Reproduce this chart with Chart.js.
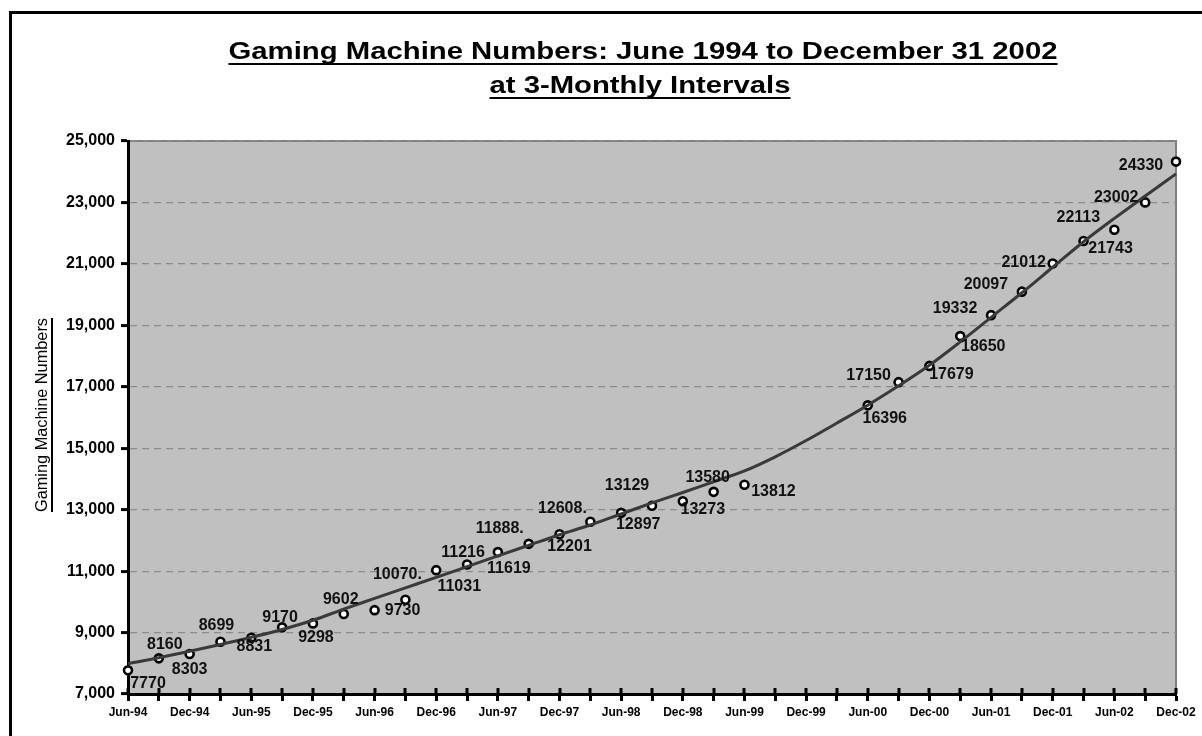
<!DOCTYPE html>
<html>
<head>
<meta charset="utf-8">
<title>Gaming Machine Numbers</title>
<script src="https://cdn.jsdelivr.net/npm/chart.js@4.4.1/dist/chart.umd.min.js"></script>
<style>
  html, body { margin: 0; padding: 0; background: #fff; }
  #wrap { position: relative; width: 1202px; height: 736px; }
</style>
</head>
<body>
<div id="wrap"><canvas id="chart"></canvas></div>
<script>
// quarterly dates, Jun-94 .. Dec-02
const quarters = [
  'Jun-94', 'Sep-94', 'Dec-94', 'Mar-95', 'Jun-95', 'Sep-95', 'Dec-95', 'Mar-96',
  'Jun-96', 'Sep-96', 'Dec-96', 'Mar-97', 'Jun-97', 'Sep-97', 'Dec-97', 'Mar-98',
  'Jun-98', 'Sep-98', 'Dec-98', 'Mar-99', 'Jun-99', 'Sep-99', 'Dec-99', 'Mar-00',
  'Jun-00', 'Sep-00', 'Dec-00', 'Mar-01', 'Jun-01', 'Sep-01', 'Dec-01', 'Mar-02',
  'Jun-02', 'Sep-02', 'Dec-02'
];

// gaming machine numbers (no figures for Sep-99 .. Mar-00)
const machines = [
  7770, 8160, 8303, 8699, 8831, 9170, 9298, 9602,
  9730, 10070, 11031, 11216, 11619, 11888, 12201, 12608,
  12897, 13129, 13273, 13580, 13812, null, null, null,
  16396, 17150, 17679, 18650, 19332, 20097, 21012, 21743,
  22113, 23002, 24330
];

// trend line
const trend = [
  7990, 8180, 8390, 8610, 8845, 9100, 9400, 9765,
  10110, 10454, 10797, 11145, 11494, 11840, 12185, 12500,
  12860, 13220, 13560, 13910, 14260, 14720, 15250, 15820,
  16400, 17030, 17700, 18460, 19260, 20060, 20890, 21720,
  22480, 23210, 23930
];

const yTicks = [7000, 9000, 11000, 13000, 15000, 17000, 19000, 21000, 23000, 25000];

// labels that show a trailing dot in the original
const dotted = [9, 13, 15];

// where each value label sits relative to its point (px)
const labelNudge = [
  [20, 13], [6, -14], [0, 16], [-4, -16], [3, 9], [-2, -10], [3, 14], [-3, -14],
  [28, 0], [-8, -25], [23, 16], [-4, -12], [11, 16], [-29, -15], [10, 12], [-28, -13],
  [17, 12], [-25, -20], [20, 8], [-6, -14], [29, 7], null, null, null,
  [17, 13], [-30, -7], [22, 9], [23, 11], [-36, -7], [-36, -7], [-29, -1], [27, 8],
  [-36, -12], [-29, -5], [-35, 4]
];

const FONT = '"Liberation Sans", Arial, sans-serif';

function fitText(ctx, text, cx, y, w) {
  const m = ctx.measureText(text).width;
  ctx.save();
  ctx.translate(cx, y);
  ctx.scale(w / m, 1);
  ctx.textAlign = 'center';
  ctx.fillText(text, 0, 0);
  ctx.restore();
  ctx.fillRect(cx - w / 2, y + 4, w, 2);
}

const framePlugin = {
  id: 'frame',
  beforeDraw(chart) {
    const { ctx, chartArea: a } = chart;
    ctx.save();
    // outer border
    ctx.strokeStyle = '#000';
    ctx.lineWidth = 3;
    ctx.beginPath();
    ctx.moveTo(10.5, 800);
    ctx.lineTo(10.5, 12.5);
    ctx.lineTo(1300, 12.5);
    ctx.stroke();
    // plot background
    ctx.fillStyle = '#c0c0c0';
    ctx.fillRect(a.left, a.top, a.right - a.left, a.bottom - a.top);
    ctx.strokeStyle = '#808080';
    ctx.lineWidth = 2;
    ctx.beginPath();
    ctx.moveTo(a.left, a.top);
    ctx.lineTo(a.right, a.top);
    ctx.lineTo(a.right, a.bottom);
    ctx.stroke();
    ctx.restore();
  },
  afterDraw(chart) {
    const ctx = chart.ctx;
    const x = chart.scales.x;
    ctx.save();
    // x tick marks cross the axis line
    ctx.fillStyle = '#000';
    quarters.forEach((q, i) => {
      ctx.fillRect(Math.round(x.getPixelForTick(i)) - 1.5, chart.chartArea.bottom - 6, 3, 6);
    });
    ctx.textBaseline = 'alphabetic';
    ctx.font = 'bold 24px ' + FONT;
    fitText(ctx, 'Gaming Machine Numbers: June 1994 to December 31 2002', 643, 59, 829);
    fitText(ctx, 'at 3-Monthly Intervals', 640, 93, 301);
    // y axis title
    ctx.font = '16px ' + FONT;
    ctx.translate(47, 415);
    ctx.rotate(-Math.PI / 2);
    fitText(ctx, 'Gaming Machine Numbers', 0, 0, 194);
    ctx.restore();
  }
};

const labelPlugin = {
  id: 'valueLabels',
  afterDatasetsDraw(chart) {
    const ctx = chart.ctx;
    const meta = chart.getDatasetMeta(1);
    ctx.save();
    ctx.font = 'bold 16px ' + FONT;
    ctx.fillStyle = '#111';
    ctx.textAlign = 'center';
    ctx.textBaseline = 'middle';
    machines.forEach((v, i) => {
      if (v == null || !labelNudge[i]) return;
      const p = meta.data[i];
      const txt = String(v) + (dotted.includes(i) ? '.' : '');
      ctx.fillText(txt, p.x + labelNudge[i][0], p.y + labelNudge[i][1]);
    });
    ctx.restore();
  }
};

new Chart(document.getElementById('chart'), {
  type: 'line',
  data: {
    labels: quarters,
    datasets: [
      {
        label: 'Trend',
        data: trend,
        borderColor: '#3a3a3a',
        borderWidth: 3,
        pointRadius: 0,
        cubicInterpolationMode: 'monotone',
        fill: false
      },
      {
        label: 'Gaming Machine Numbers',
        data: machines,
        showLine: false,
        pointRadius: 4,
        pointBorderWidth: 2.6,
        pointBackgroundColor: '#fff',
        pointBorderColor: '#000'
      }
    ]
  },
  options: {
    responsive: true,
    maintainAspectRatio: false,
    animation: false,
    devicePixelRatio: 1,
    layout: { padding: { left: 10, top: 141, right: 26, bottom: 0 } },
    plugins: {
      legend: { display: false },
      tooltip: { enabled: false }
    },
    scales: {
      x: {
        offset: false,
        afterFit(s) { s.height = 42; },
        border: { color: '#000', width: 3 },
        grid: {
          drawOnChartArea: false,
          tickLength: 7,
          tickWidth: 3,
          tickColor: '#000'
        },
        ticks: {
          autoSkip: false,
          maxRotation: 0,
          padding: 4,
          color: '#000',
          font: { family: FONT, size: 12, weight: 'bold' },
          callback(v, i) { return i % 2 === 0 ? quarters[i] : ''; }
        }
      },
      y: {
        min: 7000,
        max: 25000,
        afterFit(s) { s.width = 118; },
        afterBuildTicks(s) { s.ticks = yTicks.map(v => ({ value: v })); },
        border: { color: '#000', width: 3, dash: [7, 5] },
        grid: {
          color: '#8c8c8c',
          lineWidth: 1.2,
          tickLength: 7,
          tickWidth: 3,
          tickColor: '#000',
          tickBorderDash: []
        },
        ticks: {
          padding: 6,
          color: '#000',
          font: { family: FONT, size: 16, weight: 'bold' }
        }
      }
    }
  },
  plugins: [framePlugin, labelPlugin]
});
</script>
</body>
</html>
